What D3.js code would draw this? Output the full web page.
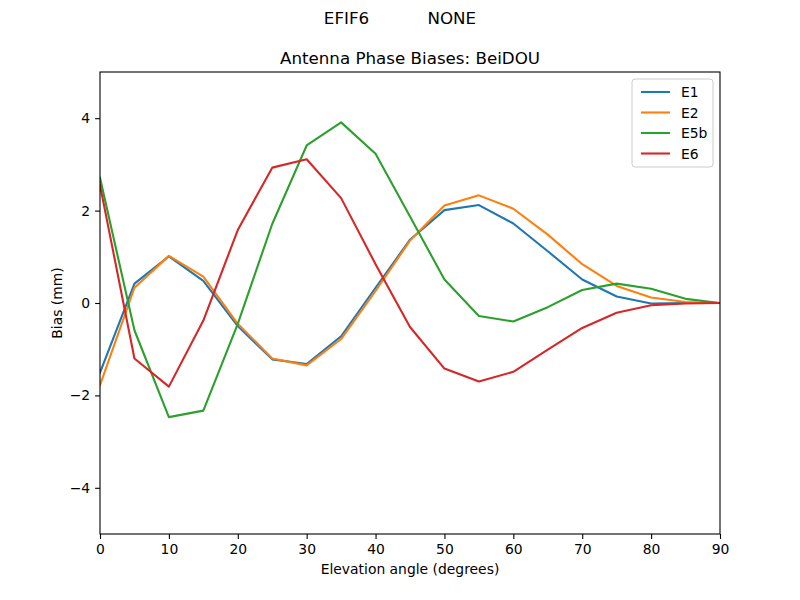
<!DOCTYPE html>
<html>
<head>
<meta charset="utf-8">
<script src="https://cdn.jsdelivr.net/npm/d3@7"></script>
<style>
  body { margin: 0; background: #fff; }
  text { font-family: "DejaVu Sans", sans-serif; }
</style>
</head>
<body>
<div id="chart"></div>
<script>
// elevation angles (degrees)
var angles = [0, 5, 10, 15, 20, 25, 30, 35, 40, 45, 50, 55, 60, 65, 70, 75, 80, 85, 90];

var e1  = [-1.51, 0.42, 1.01, 0.48, -0.50, -1.22, -1.32, -0.72, 0.33, 1.37, 2.01, 2.12, 1.72, 1.12, 0.51, 0.14, -0.01, 0.0, 0.0];
var e2  = [-1.78, 0.33, 1.02, 0.57, -0.45, -1.20, -1.35, -0.78, 0.26, 1.35, 2.11, 2.33, 2.04, 1.48, 0.84, 0.37, 0.12, 0.02, 0.0];
var e5b = [2.71, -0.59, -2.47, -2.33, -0.45, 1.71, 3.41, 3.91, 3.23, 1.87, 0.51, -0.28, -0.40, -0.09, 0.28, 0.42, 0.31, 0.09, 0.0];
var e6  = [2.55, -1.20, -1.81, -0.38, 1.58, 2.93, 3.11, 2.27, 0.84, -0.52, -1.42, -1.70, -1.49, -1.01, -0.54, -0.21, -0.05, -0.01, 0.0];

var seriesNames = ["E1", "E2", "E5b", "E6"];
var seriesData = [e1, e2, e5b, e6];
var colors = ["#1f77b4", "#ff7f0e", "#2ca02c", "#d62728"];

var xTicks = [0, 10, 20, 30, 40, 50, 60, 70, 80, 90];
var yTicks = [-4, -2, 0, 2, 4];

var W = 800, H = 600;
// plot area edges (window.top is read-only, so no "top" here)
var pLeft = 100, pRight = 720, pTop = 72, pBottom = 534;

var svg = d3.select("#chart").append("svg")
    .attr("width", W).attr("height", H);

var x = d3.scaleLinear().domain([0, 90]).range([pLeft, pRight]);
var y = d3.scaleLinear().domain([-5, 5]).range([pBottom, pTop]);

// titles
svg.append("text")
    .attr("x", 400).attr("y", 24)
    .attr("text-anchor", "middle")
    .attr("font-size", "16.7px")
    .style("white-space", "pre")
    .text("EFIF6           NONE");

svg.append("text")
    .attr("x", 410).attr("y", 64)
    .attr("text-anchor", "middle")
    .attr("font-size", "16.7px")
    .text("Antenna Phase Biases: BeiDOU");

// lines
var line = d3.line()
    .x(function(d, i) { return x(angles[i]); })
    .y(function(d) { return y(d); });

svg.append("clipPath").attr("id", "clip")
  .append("rect").attr("x", pLeft).attr("y", pTop)
    .attr("width", pRight - pLeft).attr("height", pBottom - pTop);

var plot = svg.append("g").attr("clip-path", "url(#clip)");

seriesData.forEach(function(s, i) {
  plot.append("path")
      .attr("d", line(s))
      .attr("fill", "none")
      .attr("stroke", colors[i])
      .attr("stroke-width", 2.1)
      .attr("stroke-linejoin", "round")
      .attr("stroke-linecap", "square");
});

// axes
var xAxis = d3.axisBottom(x).tickValues(xTicks).tickSize(4.9).tickPadding(4.9)
    .tickFormat(d3.format("d"));
var yAxis = d3.axisLeft(y).tickValues(yTicks).tickSize(4.9).tickPadding(4.9)
    .tickFormat(function(d) { return d < 0 ? "\u2212" + Math.abs(d) : d; });

var gx = svg.append("g").attr("transform", "translate(0," + pBottom + ")").call(xAxis);
var gy = svg.append("g").attr("transform", "translate(" + pLeft + ",0)").call(yAxis);

[gx, gy].forEach(function(g) {
  g.select(".domain").remove();
  g.selectAll("text").attr("font-size", "13.9px")
      .attr("font-family", "DejaVu Sans, sans-serif").attr("fill", "#000");
  g.selectAll("line").attr("stroke", "#000").attr("stroke-width", 1.1);
});

// frame
svg.append("rect")
    .attr("x", pLeft).attr("y", pTop)
    .attr("width", pRight - pLeft).attr("height", pBottom - pTop)
    .attr("fill", "none").attr("stroke", "#000").attr("stroke-width", 1.1);

// axis labels
svg.append("text")
    .attr("x", (pLeft + pRight) / 2).attr("y", 574)
    .attr("text-anchor", "middle")
    .attr("font-size", "13.9px")
    .text("Elevation angle (degrees)");

svg.append("text")
    .attr("transform", "translate(62," + ((pTop + pBottom) / 2) + ") rotate(-90)")
    .attr("text-anchor", "middle")
    .attr("font-size", "13.9px")
    .text("Bias (mm)");

// legend
var lg = svg.append("g").attr("transform", "translate(632,79)");
lg.append("rect")
    .attr("width", 81).attr("height", 88).attr("rx", 3)
    .attr("fill", "#fff").attr("fill-opacity", 0.8)
    .attr("stroke", "#ccc").attr("stroke-width", 1);

seriesNames.forEach(function(n, i) {
  var yy = 13 + i * 20.5;
  lg.append("line")
      .attr("x1", 9).attr("x2", 38).attr("y1", yy).attr("y2", yy)
      .attr("stroke", colors[i]).attr("stroke-width", 2.1);
  lg.append("text")
      .attr("x", 49).attr("y", yy + 5)
      .attr("font-size", "13.9px")
      .text(n);
});
</script>
</body>
</html>
